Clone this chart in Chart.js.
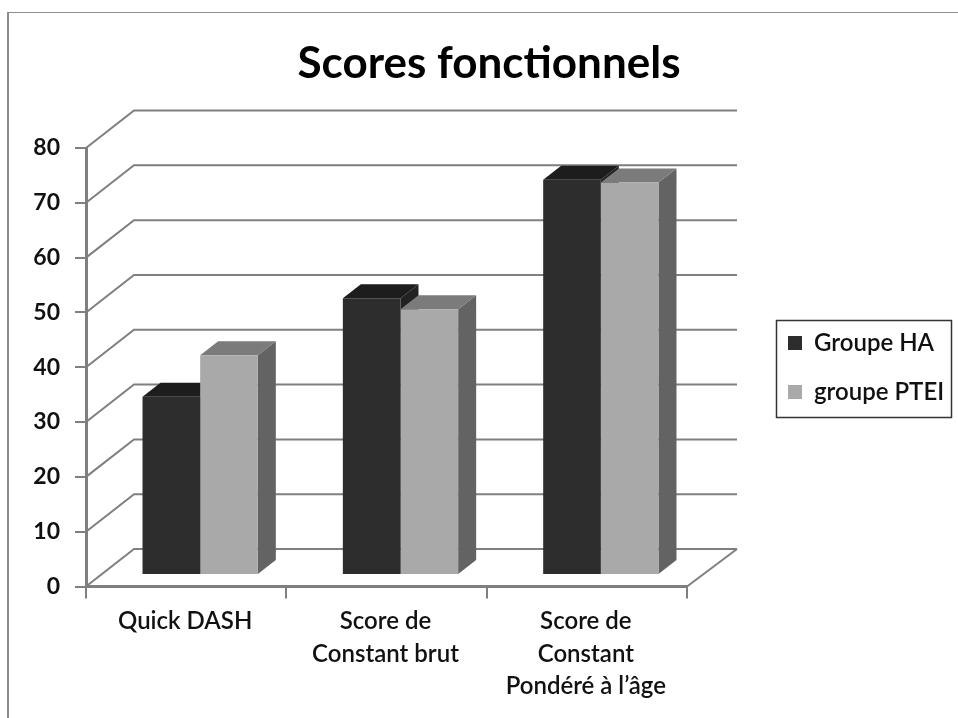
<!DOCTYPE html>
<html lang="fr">
<head>
<meta charset="utf-8">
<title>Scores fonctionnels</title>
<script src="https://cdn.jsdelivr.net/npm/chart.js@4"></script>
<style>
  html, body { margin: 0; padding: 0; background: #fff; overflow: hidden; }
  canvas { display: block; }
</style>
</head>
<body>
<canvas id="chart" width="958" height="718"></canvas>
<script>
/* ── Data ────────────────────────────────────────────────── */

const categories = [
  'Quick DASH',
  ['Score de', 'Constant brut'],
  ['Score de', 'Constant', 'Pondéré à l’âge'],
];
const groupeHA = [32.5, 50.5, 72.1];
const groupePTEI = [40.1, 48.5, 71.6];

/* ── Look ────────────────────────────────────────────────── */

const FONT = 'Lato, "Open Sans", sans-serif';
const AXIS_GREY = '#7f7f7f';
const HA_FACES = { front: '#2d2d2d', top: '#1d1d1d', side: '#222222' };
const PTEI_FACES = { front: '#a9a9a9', top: '#7b7b7b', side: '#636363' };

/* ── 3D look: back wall, floor, bar depth, frame, legend box ─ */

const wall = { leftDx: 48, rightDx: 50, dy: -37.5 };
const barShift = { x: 14, y: -11.5 };
const barDepth = { x: 18, y: -14 };

function fillPoly(ctx, color, pts) {
  ctx.fillStyle = color;
  ctx.beginPath();
  pts.forEach(([x, y], i) => (i ? ctx.lineTo(x, y) : ctx.moveTo(x, y)));
  ctx.closePath();
  ctx.fill();
}

const scene3d = {
  id: 'scene3d',
  afterLayout(chart) {
    // title is centred over the slide, legend sits at the right of the plot
    chart.titleBlock.left = 0;
    chart.titleBlock.right = 978;
    chart.legend.left = 763;
    chart.legend.right = 951;
    chart.legend.top = 306;
    chart.legend.bottom = 710;
  },
  beforeDraw(chart) {
    const { ctx, width, height } = chart;
    ctx.save();
    ctx.fillStyle = '#fff';
    ctx.fillRect(0, 0, width, height);
    // slide frame, only its top and left edges are in the picture
    ctx.strokeStyle = '#8c8c8c';
    ctx.lineWidth = 1;
    ctx.beginPath();
    ctx.moveTo(width, 12.5);
    ctx.lineTo(8, 12.5);
    ctx.stroke();
    ctx.lineWidth = 2;
    ctx.beginPath();
    ctx.moveTo(8, 12);
    ctx.lineTo(8, height);
    ctx.stroke();
    ctx.restore();
  },
  beforeDatasetsDraw(chart) {
    const { ctx, scales: { x, y } } = chart;
    ctx.save();
    ctx.strokeStyle = AXIS_GREY;
    ctx.lineWidth = 2;
    y.ticks.forEach((t) => {
      const py = y.getPixelForValue(t.value);
      ctx.beginPath();
      ctx.moveTo(x.left, py);
      ctx.lineTo(x.left + wall.leftDx, py + wall.dy);
      ctx.lineTo(x.right + wall.rightDx, py + wall.dy);
      ctx.stroke();
    });
    // floor edge on the right
    const y0 = y.getPixelForValue(0);
    ctx.beginPath();
    ctx.moveTo(x.right, y0);
    ctx.lineTo(x.right + wall.rightDx, y0 + wall.dy);
    ctx.stroke();
    ctx.restore();

    // side and top faces, then the native bars go on top of them
    ctx.save();
    ctx.translate(barShift.x, barShift.y);
    [HA_FACES, PTEI_FACES].forEach((faces, d) => {
      chart.getDatasetMeta(d).data.forEach((bar) => {
        const l = bar.x - bar.width / 2;
        const r = bar.x + bar.width / 2;
        const t = bar.y;
        const b = bar.base;
        fillPoly(ctx, faces.side, [[r, t], [r + barDepth.x, t + barDepth.y], [r + barDepth.x, b + barDepth.y], [r, b]]);
        fillPoly(ctx, faces.top, [[l, t], [l + barDepth.x, t + barDepth.y], [r + barDepth.x, t + barDepth.y], [r, t]]);
      });
    });
    // stays translated for the native bars, restored in afterDatasetsDraw
  },
  afterDatasetsDraw(chart) {
    chart.ctx.restore();
  },
  afterDraw(chart) {
    const { ctx } = chart;
    ctx.save();
    ctx.strokeStyle = '#333';
    ctx.lineWidth = 1.5;
    ctx.strokeRect(776.5, 320.5, 175, 97);
    ctx.restore();
  },
};

/* ── Chart ───────────────────────────────────────────────── */

new Chart(document.getElementById('chart'), {
  type: 'bar',
  data: {
    labels: categories,
    datasets: [
      { label: 'Groupe HA', data: groupeHA, backgroundColor: HA_FACES.front },
      { label: 'groupe PTEI', data: groupePTEI, backgroundColor: PTEI_FACES.front },
    ],
  },
  options: {
    responsive: false,
    animation: false,
    layout: { padding: { right: 271 } },
    datasets: { bar: { barPercentage: 1, categoryPercentage: 0.5756 } },
    plugins: {
      tooltip: { enabled: false },
      title: {
        display: true,
        text: 'Scores fonctionnels',
        color: '#000',
        font: { family: FONT, size: 44, weight: 'bold', lineHeight: 1.2 },
        padding: { top: 37, bottom: 58.2 },
      },
      legend: {
        position: 'chartArea',
        align: 'start',
        labels: {
          color: '#111',
          font: { family: FONT, size: 24, weight: '600' },
          boxWidth: 14,
          boxHeight: 14,
          padding: 25,
        },
      },
    },
    scales: {
      x: {
        afterFit: (scale) => { scale.height = 131.5; },
        grid: {
          offset: true,
          drawOnChartArea: false,
          color: AXIS_GREY,
          lineWidth: 2,
          tickLength: 12,
        },
        border: { color: AXIS_GREY, width: 3 },
        ticks: {
          color: '#111',
          font: { family: FONT, size: 24, weight: '600', lineHeight: 1.354 },
          padding: 7,
          labelOffset: -1,
          maxRotation: 0,
        },
      },
      y: {
        min: 0,
        max: 80,
        afterFit: (scale) => { scale.width = 86; },
        grid: {
          drawOnChartArea: false,
          color: AXIS_GREY,
          lineWidth: 2,
          tickLength: 11,
        },
        border: { color: AXIS_GREY, width: 3 },
        ticks: {
          stepSize: 10,
          color: '#111',
          font: { family: FONT, size: 23, weight: 'bold' },
          padding: 15,
        },
      },
    },
  },
  plugins: [scene3d],
});
</script>
</body>
</html>
